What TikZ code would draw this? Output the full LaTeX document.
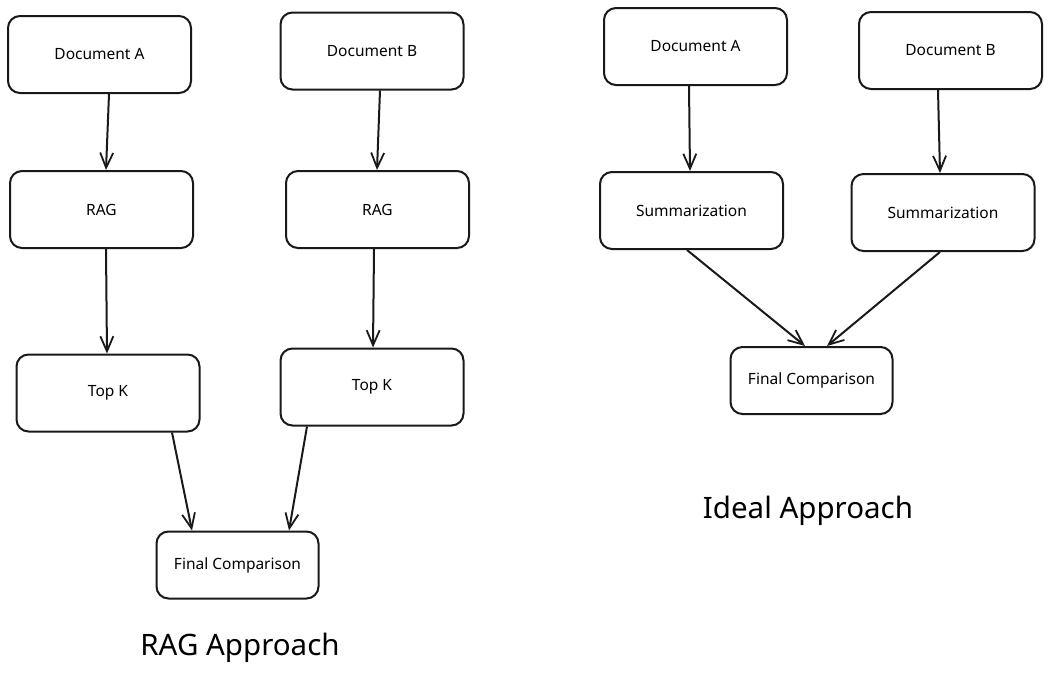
\documentclass[tikz,border=0pt]{standalone}
\usepackage{fontspec}
\setmainfont{Noto Sans}
\usetikzlibrary{arrows.meta}
\begin{document}
\begin{tikzpicture}[x=1pt,y=-1pt,
  box/.style={draw=black!90, line width=2pt, rounded corners=12pt, inner sep=0pt,
    font=\fontsize{15.5}{18}\selectfont},
  wide/.style={minimum width=183pt, minimum height=77pt},
  small/.style={minimum width=162pt, minimum height=67pt},
  conn/.style={draw=black!90, line width=2pt, -{Straight Barb[length=15pt,width=13pt,line width=1.8pt]}},
  title/.style={font=\fontsize{29.5}{34}\selectfont}]
\useasboundingbox (0,0) rectangle (1050,675);
% RAG approach
\node[box,wide] (dAL) at (99.5,54.5) {Document A};
\node[box,wide] (dBL) at (372,51) {Document B};
\node[box,wide] (rL) at (101.5,209.5) {RAG};
\node[box,wide] (rR) at (377.5,209.5) {RAG};
\node[box,wide] (tL) at (108,393) {Top K};
\node[box,wide] (tR) at (372,387) {Top K};
\node[box,small] (fL) at (237.5,565) {Final Comparison};
\node[title] (tRAG) at (240,648) {RAG Approach};
% Ideal approach
\node[box,wide] (dAR) at (695.5,46.5) {Document A};
\node[box,wide] (dBR) at (950.5,50.5) {Document B};
\node[box,wide] (sL) at (691.5,210.5) {Summarization};
\node[box,wide] (sR) at (943,212.5) {Summarization};
\node[box,small] (fR) at (811.5,380.5) {Final Comparison};
\node[title] (tIdeal) at (808,511) {Ideal Approach};
% connectors
\draw[conn] ([xshift=9.5pt]dAL.south) -- ([xshift=4.5pt]rL.north);
\draw[conn] ([xshift=4.5pt]rL.south) -- ([xshift=-1pt]tL.north);
\draw[conn] ([xshift=64pt]tL.south) -- ([xshift=-45.5pt]fL.north);
\draw[conn] ([xshift=-65pt]tR.south) -- ([xshift=51.5pt]fL.north);
\draw[conn] ([xshift=8pt]dBL.south) -- ([xshift=-0.5pt]rR.north);
\draw[conn] ([xshift=-3.5pt]rR.south) -- ([xshift=1pt]tR.north);
\draw[conn] ([xshift=-6.5pt]dAR.south) -- ([xshift=-1.5pt]sL.north);
\draw[conn] ([xshift=-12.5pt]dBR.south) -- ([xshift=-3pt]sR.north);
\draw[conn] ([xshift=-4.5pt]sL.south) -- ([xshift=-6.5pt]fR.north);
\draw[conn] ([xshift=-3pt]sR.south) -- ([xshift=15.5pt]fR.north);
\end{tikzpicture}
\end{document}
